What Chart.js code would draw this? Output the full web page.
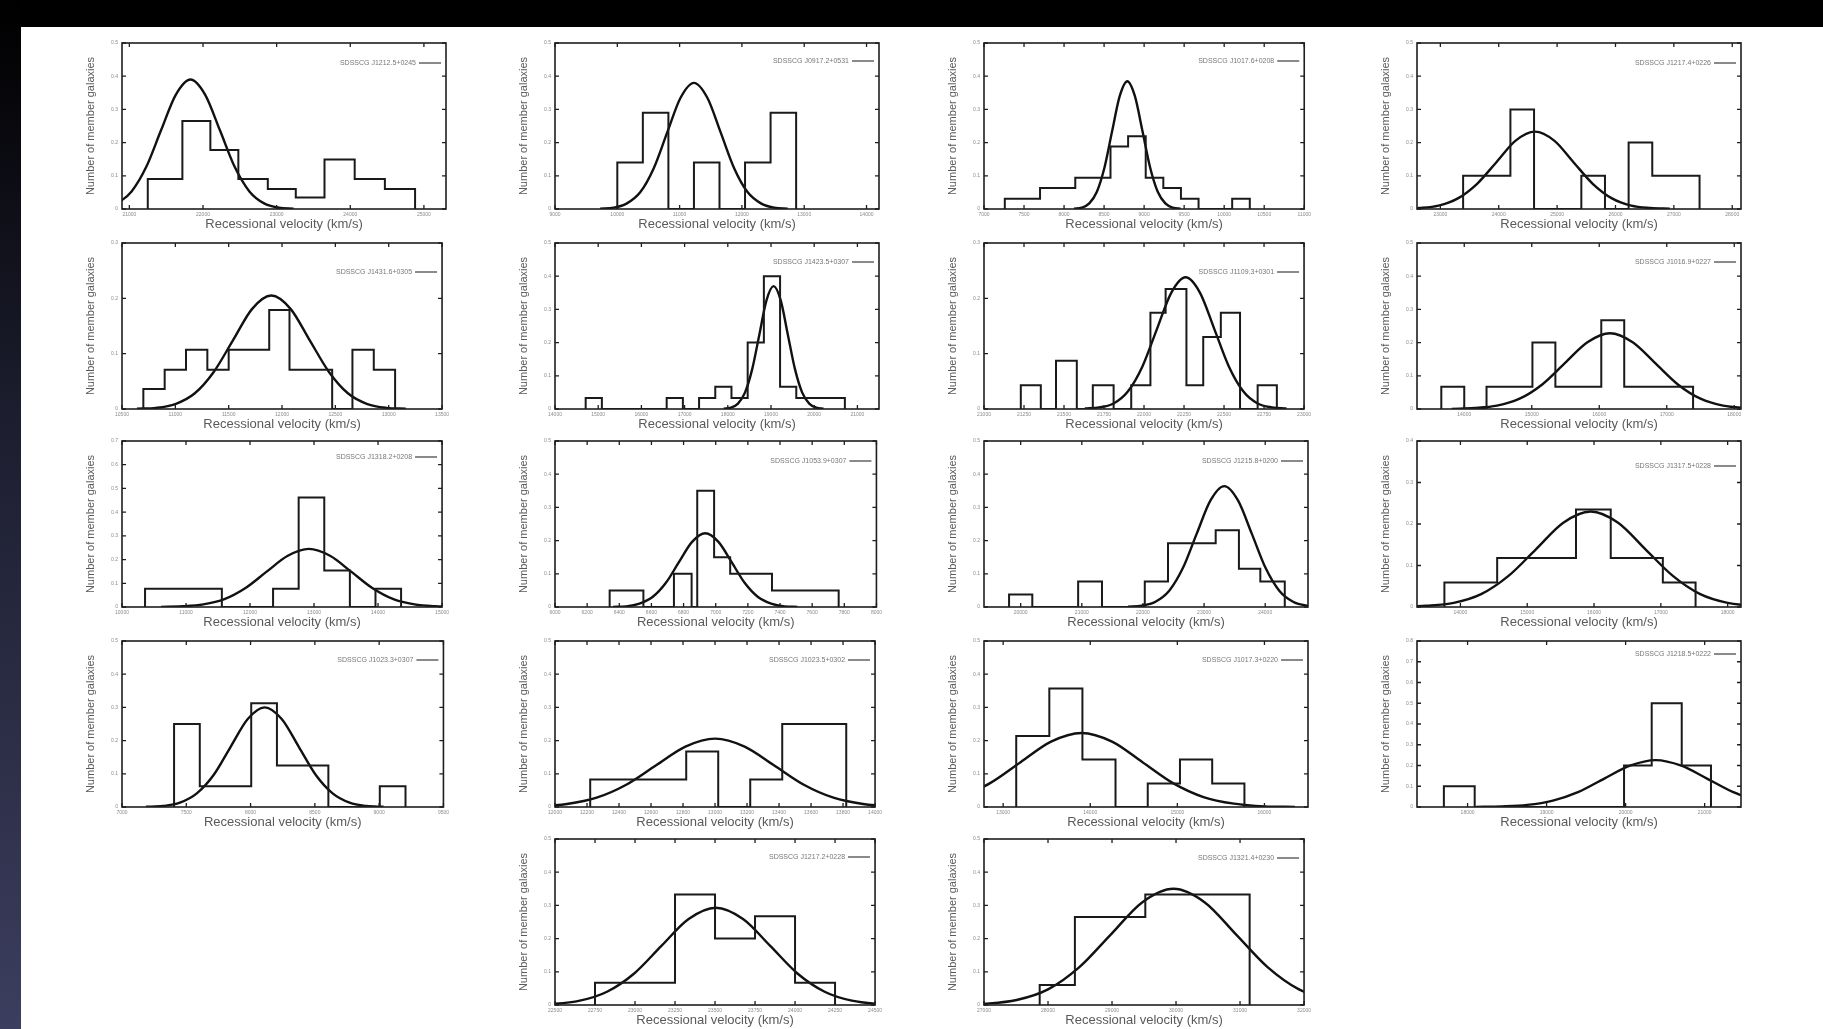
<!DOCTYPE html>
<html>
<head>
<meta charset="utf-8">
<script src="https://cdn.jsdelivr.net/npm/chart.js@4.4.0/dist/chart.umd.min.js"></script>
<style>
  html, body { margin: 0; padding: 0; width: 1823px; height: 1029px; overflow: hidden; background: #fff; }
  #topbar { position: absolute; left: 0; top: 0; width: 1823px; height: 27px; background: #000; }
  #leftbar { position: absolute; left: 0; top: 0; width: 21px; height: 1029px; background: linear-gradient(#000 0%, #1c1d2e 40%, #3b3e5e 100%); }
  canvas.panel { position: absolute; filter: blur(0.5px); }
</style>
</head>
<body>
<div id="topbar"></div>
<div id="leftbar"></div>
<script>
// ---------------- DATA ----------------
const groupNames = [
  "SDSSCG J1212.5+0245", "SDSSCG J0917.2+0531", "SDSSCG J1017.6+0208", "SDSSCG J1217.4+0226",
  "SDSSCG J1431.6+0305", "SDSSCG J1423.5+0307", "SDSSCG J1109.3+0301", "SDSSCG J1016.9+0227",
  "SDSSCG J1318.2+0208", "SDSSCG J1053.9+0307", "SDSSCG J1215.8+0200", "SDSSCG J1317.5+0228",
  "SDSSCG J1023.3+0307", "SDSSCG J1023.5+0302", "SDSSCG J1017.3+0220", "SDSSCG J1218.5+0222",
  "SDSSCG J1217.2+0228", "SDSSCG J1321.4+0230"
];

// histogram bin edges (km/s) and fraction of member galaxies per bin
const binEdges = [
  [21250,21720,22100,22480,22880,23260,23650,24060,24470,24880],
  [10000,10410,10820,11230,11640,12050,12460,12870],
  [7260,7700,8140,8580,8800,9020,9240,9460,9680,10100,10320],
  [23390,23795,24200,24605,25010,25415,25820,26225,26630,27035,27440],
  [10700,10900,11100,11300,11500,11700,11880,12070,12270,12470,12660,12860,13060],
  [14710,15085,16585,16960,17335,17710,18085,18460,18835,19210,19585,19960,20710],
  [21230,21355,21450,21580,21680,21810,21920,22040,22135,22265,22370,22480,22600,22710,22830],
  [13660,14000,14330,14670,15010,15350,15690,16030,16370,16710,17050,17390],
  [10360,10760,11160,11560,11960,12360,12760,13160,13560,13960,14360],
  [6340,6550,6740,6850,6885,6990,7090,7350,7765],
  [19810,20190,20940,21330,22030,22410,23190,23570,23920,24320],
  [13760,14550,15730,16250,17030,17520],
  [7405,7605,8005,8205,8605,9005,9205],
  [12220,12820,13020,13220,13420,13820],
  [13150,13530,13910,14290,14660,15030,15400,15770],
  [17700,18090,19980,20330,20710,21080],
  [22750,23250,23500,23750,24000,24250],
  [27870,28420,29520,31150]
];
const binFractions = [
  [0.09,0.265,0.178,0.09,0.06,0.035,0.149,0.09,0.06],
  [0.14,0.29,0,0.14,0,0.14,0.29],
  [0.031,0.063,0.094,0.188,0.219,0.094,0.063,0.031,0,0.031],
  [0.1,0.1,0.3,0,0,0.1,0,0.2,0.1,0.1],
  [0.036,0.071,0.107,0.071,0.107,0.107,0.179,0.071,0.071,0,0.107,0.071],
  [0.033,0,0.033,0,0.033,0.067,0.033,0.2,0.4,0.067,0.033,0.033],
  [0.043,0,0.087,0,0.043,0,0.043,0.174,0.217,0.043,0.13,0.174,0,0.043],
  [0.067,0,0.067,0.067,0.2,0.067,0.067,0.267,0.067,0.067,0.067],
  [0.077,0.077,0.077,0,0,0.077,0.462,0.154,0,0.077],
  [0.05,0,0.1,0,0.35,0.15,0.1,0.05],
  [0.038,0,0.077,0,0.077,0.192,0.231,0.115,0.077],
  [0.059,0.118,0.235,0.118,0.059],
  [0.25,0.0625,0.3125,0.125,0,0.0625],
  [0.083,0.167,0,0.083,0.25],
  [0.214,0.357,0.143,0,0.071,0.143,0.071],
  [0.1,0,0.2,0.5,0.2],
  [0.067,0.333,0.2,0.267,0.067],
  [0.06,0.265,0.333]
];

// fitted Gaussian curve (velocity, fraction)
const fitVelocity = [
  [20430,20630,20830,21030,21230,21430,21630,21830,22030,22230,22430,22630,22830,23030,23230],
  [9725,9940,10155,10370,10585,10800,11015,11230,11445,11660,11875,12090,12305,12520,12735],
  [8125,8220,8315,8410,8505,8600,8695,8790,8885,8980,9075,9170,9265,9360,9455],
  [22310,22640,22970,23300,23630,23960,24290,24620,24950,25280,25610,25940,26270,26600,26930],
  [10640,10820,11000,11180,11360,11540,11720,11900,12080,12260,12440,12620,12800,12980,13160],
  [17905,18070,18235,18400,18565,18730,18895,19060,19225,19390,19555,19720,19885,20050,20215],
  [21630,21720,21810,21900,21990,22080,22170,22260,22350,22440,22530,22620,22710,22800,22890],
  [13815,14150,14485,14820,15155,15490,15825,16160,16495,16830,17165,17500,17835,18170,18505],
  [10610,10940,11270,11600,11930,12260,12590,12920,13250,13580,13910,14240,14570,14900,15230],
  [6361,6443,6525,6607,6689,6771,6853,6935,7017,7099,7181,7263,7345,7427,7509],
  [21755,21980,22205,22430,22655,22880,23105,23330,23555,23780,24005,24230,24455,24680,24905],
  [13080,13490,13900,14310,14720,15130,15540,15950,16360,16770,17180,17590,18000,18410,18820],
  [7186,7318,7450,7582,7714,7846,7978,8110,8242,8374,8506,8638,8770,8902,9034],
  [11705,11890,12075,12260,12445,12630,12815,13000,13185,13370,13555,13740,13925,14110,14295],
  [11450,11800,12150,12500,12850,13200,13550,13900,14250,14600,14950,15300,15650,16000,16350],
  [18105,18430,18755,19080,19405,19730,20055,20380,20705,21030,21355,21680,22005,22330,22655],
  [22315,22485,22655,22825,22995,23165,23335,23505,23675,23845,24015,24185,24355,24525,24695],
  [26530,27020,27510,28000,28490,28980,29470,29960,30450,30940,31430,31920,32410,32900,33390]
];
const fitFraction = [
  [0.001,0.004,0.017,0.053,0.127,0.237,0.344,0.39,0.344,0.237,0.127,0.053,0.017,0.004,0.001],
  [0.001,0.004,0.017,0.051,0.123,0.230,0.335,0.38,0.335,0.230,0.123,0.051,0.017,0.004,0.001],
  [0.001,0.004,0.017,0.052,0.125,0.234,0.340,0.385,0.340,0.234,0.125,0.052,0.017,0.004,0.001],
  [0.001,0.003,0.010,0.032,0.076,0.141,0.206,0.233,0.206,0.141,0.076,0.032,0.010,0.003,0.001],
  [0.0005,0.002,0.009,0.028,0.067,0.124,0.181,0.205,0.181,0.124,0.067,0.028,0.009,0.002,0.0005],
  [0.001,0.004,0.016,0.050,0.120,0.224,0.327,0.37,0.327,0.224,0.120,0.050,0.016,0.004,0.001],
  [0.001,0.003,0.010,0.032,0.077,0.144,0.210,0.238,0.210,0.144,0.077,0.032,0.010,0.003,0.001],
  [0.0005,0.003,0.010,0.031,0.074,0.138,0.201,0.228,0.201,0.138,0.074,0.031,0.010,0.003,0.0005],
  [0.0005,0.003,0.011,0.033,0.080,0.149,0.216,0.245,0.216,0.149,0.080,0.033,0.011,0.003,0.0005],
  [0.0005,0.002,0.010,0.030,0.072,0.135,0.196,0.222,0.196,0.135,0.072,0.030,0.010,0.002,0.0005],
  [0.001,0.004,0.016,0.049,0.118,0.221,0.321,0.364,0.321,0.221,0.118,0.049,0.016,0.004,0.001],
  [0.0005,0.003,0.010,0.031,0.075,0.139,0.203,0.23,0.203,0.139,0.075,0.031,0.010,0.003,0.0005],
  [0.0007,0.003,0.013,0.041,0.097,0.182,0.265,0.30,0.265,0.182,0.097,0.041,0.013,0.003,0.0007],
  [0.0005,0.002,0.009,0.028,0.067,0.125,0.182,0.206,0.182,0.125,0.067,0.028,0.009,0.002,0.0005],
  [0.0005,0.002,0.010,0.030,0.072,0.135,0.197,0.223,0.197,0.135,0.072,0.030,0.010,0.002,0.0005],
  [0.0005,0.003,0.010,0.031,0.073,0.137,0.199,0.226,0.199,0.137,0.073,0.031,0.010,0.003,0.0005],
  [0.0006,0.003,0.013,0.040,0.095,0.178,0.259,0.293,0.259,0.178,0.095,0.040,0.013,0.003,0.0006],
  [0.0008,0.004,0.015,0.047,0.114,0.212,0.309,0.35,0.309,0.212,0.114,0.047,0.015,0.004,0.0008]
];

// axis ranges and tick labels
const xRangeMin = [20900,9000,7000,22600,10500,14000,21000,13300,10000,6000,19400,13350,7000,12000,12780,17360,22500,27000];
const xRangeMax = [25300,14200,11000,28150,13500,21500,23000,18100,15000,8000,24700,18200,9500,14000,16500,21460,24500,32000];
const xTickValues = [
  [21000,22000,23000,24000,25000],
  [9000,10000,11000,12000,13000,14000],
  [7000,7500,8000,8500,9000,9500,10000,10500,11000],
  [23000,24000,25000,26000,27000,28000],
  [10500,11000,11500,12000,12500,13000,13500],
  [14000,15000,16000,17000,18000,19000,20000,21000],
  [21000,21250,21500,21750,22000,22250,22500,22750,23000],
  [14000,15000,16000,17000,18000],
  [10000,11000,12000,13000,14000,15000],
  [6000,6200,6400,6600,6800,7000,7200,7400,7600,7800,8000],
  [20000,21000,22000,23000,24000],
  [14000,15000,16000,17000,18000],
  [7000,7500,8000,8500,9000,9500],
  [12000,12200,12400,12600,12800,13000,13200,13400,13600,13800,14000],
  [13000,14000,15000,16000],
  [18000,19000,20000,21000],
  [22500,22750,23000,23250,23500,23750,24000,24250,24500],
  [27000,28000,29000,30000,31000,32000]
];
const yRangeMax = [0.5,0.5,0.5,0.5, 0.3,0.5,0.3,0.5, 0.7,0.5,0.5,0.4, 0.5,0.5,0.5,0.8, 0.5,0.5];
const xAxisTitle = "Recessional velocity (km/s)";
const yAxisTitle = "Number of member galaxies";

// ---------------- LAYOUT ----------------
const colLeft = [122, 555, 984, 1417];
const rowTop = [42, 242, 440, 640, 838];
const panelCell = [[0,0],[0,1],[0,2],[0,3],[1,0],[1,1],[1,2],[1,3],[2,0],[2,1],[2,2],[2,3],[3,0],[3,1],[3,2],[3,3],[4,1],[4,2]];
const legendDy = [20,18,18,20, 29,19,29,19, 16,20,20,25, 19,19,19,13, 18,19];
const FRAME_W = 324, FRAME_H = 167;
const PAD_L = 50, PAD_R = 6, PAD_T = 6, PAD_B = 28;
const FONT = '"Liberation Sans", Arial, Helvetica, sans-serif';

const framePlugin = {
  id: 'gnuframe',
  afterDraw(chart, args, opts) {
    const { ctx, chartArea: a } = chart;
    const xs = chart.scales.x, ys = chart.scales.y;
    ctx.save();
    ctx.strokeStyle = '#1e1e1e';
    ctx.lineWidth = 1.6;
    ctx.strokeRect(a.left, a.top, a.right - a.left, a.bottom - a.top);
    ctx.lineWidth = 1.3;
    ctx.beginPath();
    xs.ticks.forEach(t => {
      const px = xs.getPixelForValue(t.value);
      ctx.moveTo(px, a.bottom); ctx.lineTo(px, a.bottom - 4);
      ctx.moveTo(px, a.top); ctx.lineTo(px, a.top + 4);
    });
    ys.ticks.forEach(t => {
      const py = ys.getPixelForValue(t.value);
      ctx.moveTo(a.left, py); ctx.lineTo(a.left + 4, py);
      ctx.moveTo(a.right, py); ctx.lineTo(a.right - 4, py);
    });
    ctx.stroke();
    const ly = a.top + opts.dy;
    ctx.font = '7px ' + FONT;
    ctx.fillStyle = '#777';
    ctx.textAlign = 'right';
    ctx.textBaseline = 'middle';
    ctx.fillText(opts.label, a.right - 30, ly);
    ctx.strokeStyle = '#8a8a8a';
    ctx.lineWidth = 2;
    ctx.beginPath();
    ctx.moveTo(a.right - 27, ly); ctx.lineTo(a.right - 5, ly);
    ctx.stroke();
    ctx.restore();
  }
};

// outline of the histogram built from the bin edges and heights
function histogramPoints(edges, fr) {
  const pts = [{ x: edges[0], y: 0 }];
  for (let i = 0; i < fr.length; i++) {
    pts.push({ x: edges[i], y: fr[i] });
    pts.push({ x: edges[i + 1], y: fr[i] });
  }
  pts.push({ x: edges[edges.length - 1], y: 0 });
  return pts;
}

function makePanel(i) {
  const [r, c] = panelCell[i];
  const cv = document.createElement('canvas');
  cv.className = 'panel';
  const W = FRAME_W + PAD_L + PAD_R, H = FRAME_H + PAD_T + PAD_B;
  cv.width = W; cv.height = H;
  cv.style.width = W + 'px'; cv.style.height = H + 'px';
  cv.style.left = (colLeft[c] - PAD_L) + 'px';
  cv.style.top = (rowTop[r] - PAD_T) + 'px';
  document.body.appendChild(cv);

  const fitPts = fitVelocity[i].map((v, j) => ({ x: v, y: fitFraction[i][j] }));
  new Chart(cv, {
    type: 'line',
    data: {
      datasets: [
        { data: histogramPoints(binEdges[i], binFractions[i]), tension: 0, borderColor: '#1a1a1a', borderWidth: 2, pointRadius: 0, fill: false },
        { data: fitPts, cubicInterpolationMode: 'monotone', borderColor: '#111', borderWidth: 2.4, pointRadius: 0, fill: false }
      ]
    },
    options: {
      responsive: false,
      devicePixelRatio: 1,
      animation: false,
      events: [],
      layout: { padding: { top: PAD_T, right: PAD_R, left: 0, bottom: 0 } },
      plugins: {
        legend: { display: false },
        tooltip: { enabled: false },
        gnuframe: { dy: legendDy[i], label: groupNames[i] }
      },
      scales: {
        x: {
          type: 'linear', min: xRangeMin[i], max: xRangeMax[i],
          afterBuildTicks: s => { s.ticks = xTickValues[i].map(v => ({ value: v })); },
          afterFit: s => { s.height = PAD_B; },
          grid: { display: false, drawTicks: false },
          border: { display: false },
          ticks: { autoSkip: false, maxRotation: 0, minRotation: 0, padding: 3, color: '#8a8a8a', font: { size: 5, family: FONT }, callback: v => String(v) },
          title: { display: true, text: xAxisTitle, color: '#5a5a5a', font: { size: 13, family: FONT }, padding: { top: 0, bottom: 5 } }
        },
        y: {
          type: 'linear', min: 0, max: yRangeMax[i],
          afterFit: s => { s.width = PAD_L; },
          grid: { display: false, drawTicks: false },
          border: { display: false },
          ticks: { stepSize: 0.1, autoSkip: false, padding: 4, color: '#8a8a8a', font: { size: 5, family: FONT }, callback: v => (Math.round(v * 10) / 10).toString() },
          title: { display: true, text: yAxisTitle, color: '#5a5a5a', font: { size: 11, family: FONT }, padding: { top: 12, bottom: 0 } }
        }
      }
    },
    plugins: [framePlugin]
  });
}

for (let i = 0; i < groupNames.length; i++) makePanel(i);
</script>
</body>
</html>
